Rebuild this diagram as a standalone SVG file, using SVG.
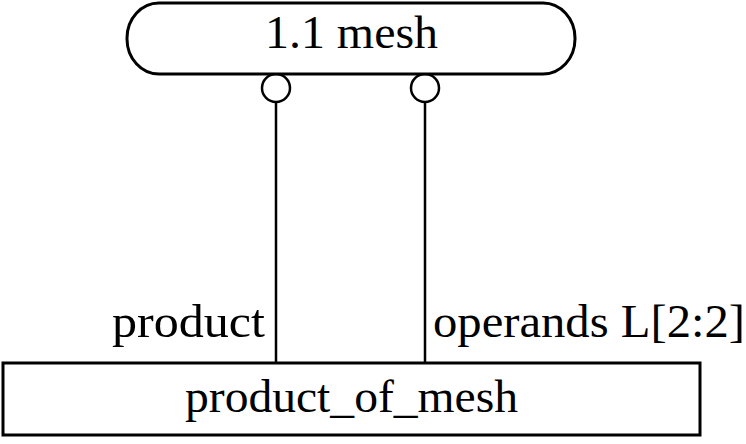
<svg xmlns="http://www.w3.org/2000/svg" width="746" height="444" viewBox="0 0 746 444">
<style>
.box{fill:#fff;stroke:#000;stroke-width:3}
.ln{stroke:#000;stroke-width:2.5;fill:none}
.t{font-family:"Liberation Serif","DejaVu Serif",serif;font-size:47px;fill:#000}
</style>
<rect width="746" height="444" fill="#fff"/>
<g id="connectors">
<line class="ln" x1="276" y1="101" x2="276" y2="363"/>
<line class="ln" x1="425" y1="101" x2="425" y2="363"/>
<circle class="ln" cx="276" cy="88" r="14"/>
<circle class="ln" cx="425" cy="88" r="14"/>
<text class="t" x="265" y="337" text-anchor="end" textLength="153" lengthAdjust="spacingAndGlyphs">product</text>
<text class="t" x="433" y="337" textLength="312" lengthAdjust="spacingAndGlyphs">operands L[2:2]</text>
</g>
<g id="mesh">
<rect class="box" x="127" y="3" width="448" height="71" rx="32" ry="35"/>
<text class="t" x="351.5" y="48" text-anchor="middle" textLength="173" lengthAdjust="spacingAndGlyphs">1.1 mesh</text>
</g>
<g id="product_of_mesh">
<rect class="box" x="3" y="363" width="697" height="72"/>
<text class="t" x="351.5" y="412" text-anchor="middle" textLength="333" lengthAdjust="spacingAndGlyphs">product_of_mesh</text>
</g>
</svg>
